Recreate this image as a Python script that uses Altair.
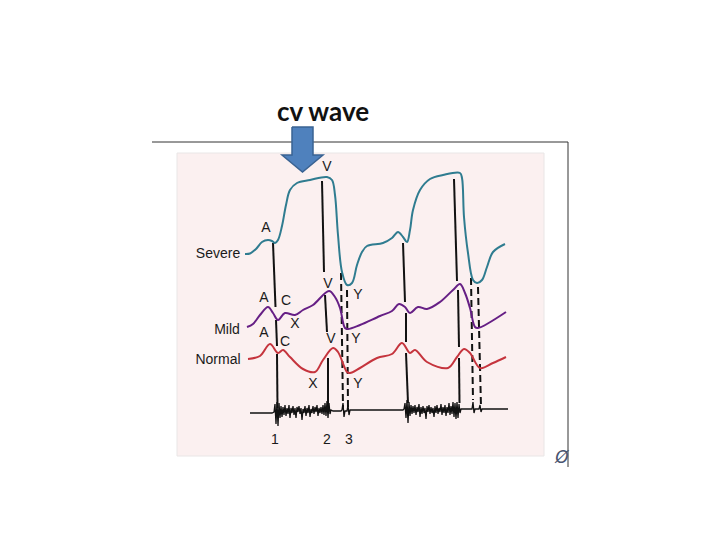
import altair as alt
import pandas as pd

severe_x = [245,250,256,262,268,272,275,278,282,286,290,297,310,327,332,335,338,342,347,352,357,362,367,383,392,398,403,407,410,413,420,430,443,460,462,464,468,473,477,482,487,493,505]
severe_y = [254,253.5,249,242,240,241,243,240,226,205,190,183,180,177,180,195,235,272,285,283,265,252,246,243,238,232,237,242,230,210,190,179,175,173,178,217,253,280,283,280,267,252,244]
mild_x = [247,253,260,268,273,278,285,295,303,313,329,335,340,345,348,360,380,392,399,405,410,418,427,440,453,460,465,470,475,478,506]
mild_y = [327,324,315,307,313,320,313,315,310,305,291,297,308,328,329,325,316,311,304,307,313,307,309,302,290,284,293,308,327,328,312]
normal_x = [248,260,270,278,283,290,303,315,323,333,338,347,350,360,377,392,402,410,415,427,448,457,464,470,480,493,506]
normal_y = [359,356,344,353,350,357,369,372,360,348,352,372,373,368,358,354,343,353,350,362,368,357,349,353,368,363,357]

ecg_points = [
    (250,413),(272,413),(274,412),(275,404),(276,424),(277,402),(278,426),(279,403),(280,418),(281,406),
    (282,417),(283,407),(284,415),(285,405),(286,416),(287,408),(288,414),(289,405),(290,418),(291,408),
    (292,413),(293,406),(294,415),(295,408),(296,418),(297,407),(298,412),(299,406),(300,414),(301,408),
    (302,420),(303,409),(304,413),(305,406),(306,416),(307,408),(308,413),(309,405),(310,417),(311,409),
    (312,413),(313,406),(314,414),(315,407),(316,412),(317,405),(318,416),(319,408),(320,413),(321,407),
    (322,414),(323,405),(324,415),(325,403),(326,416),(327,401),(328,418),(329,403),(330,414),(331,410),
    (333,411),(341,411),(342,410),(343,403),(344,417),(345,411),(347,411),(348,405),(349,415),(350,410),
    (403,410),(404,409),(405,403),(406,418),(407,400),(408,423),(409,402),(410,416),(411,405),(412,414),
    (413,406),(414,413),(415,405),(416,415),(417,407),(418,412),(419,404),(420,417),(421,407),(422,414),
    (423,406),(424,413),(425,408),(426,419),(427,406),(428,412),(429,405),(430,414),(431,407),(432,413),
    (433,408),(434,417),(435,406),(436,413),(437,405),(438,414),(439,408),(440,412),(441,404),(442,415),
    (443,407),(444,413),(445,405),(446,416),(447,407),(448,413),(449,403),(450,415),(451,406),(452,414),
    (453,402),(454,417),(455,403),(456,419),(457,402),(458,418),(459,404),(460,413),(461,409),
    (471,409),(472,409),(473,402),(474,413),(475,409),(479,409),(480,405),(481,412),(482,409),(508,409),
]
ecg_x = [p[0] for p in ecg_points]
ecg_y = [p[1] for p in ecg_points]

solid_segments = [
    [273,243,275.5,307],[276,320,277,346],[277,354,277.5,408],
    [322,181,324,272],[325,295,327,332],[328,358,328,410],
    [403,243,405,302],[406,313,406,342],[406,353,408,403],
    [454,179,457,281],[458,290,459,347],[459,358,459.5,403],
]
dashed_segments = [[341,273,343,407],[347,290,348,408],[471,278,473,400],[478,287,481,407]]

labels = ["V","A","Severe","V","A","C","Y","X","Mild","A","C","V","Y","Normal","X","Y","1","2","3"]
label_x = [327,266,218,328,264,286,358,295,227,264,285,331,356,218,313,358,275,327,349]
label_y = [167,228,254,284,298,301,295,324,330,333,342,339,339,360,384,384,440,440,440]

arrow_x = [292,313,313,323,302.5,282,292,292]
arrow_y = [127,127,155,155,172,155,155,127]

frame_x = [152,568,568]
frame_y = [142,142,467]
panel = pd.DataFrame({"x":[177],"x2":[544],"y":[153],"y2":[456]})

xs = alt.Scale(domain=[8,712], nice=False, zero=False)
ys = alt.Scale(domain=[528,8], nice=False, zero=False)
X = alt.X("x:Q", scale=xs, axis=None)
Y = alt.Y("y:Q", scale=ys, axis=None)

def curve(xv, yv, color, width=2.0, interp="catmull-rom"):
    df = pd.DataFrame({"x":xv,"y":yv})
    return alt.Chart(df).mark_line(color=color, strokeWidth=width, interpolate=interp).encode(X, Y)

def segs(rows, **kw):
    df = pd.DataFrame(rows, columns=["x","y","x2","y2"])
    return alt.Chart(df).mark_rule(color="#111111", **kw).encode(X, Y, x2="x2:Q", y2="y2:Q")

back = alt.Chart(panel).mark_rect(fill="#fbf0f0", stroke="#e9e6e6", strokeWidth=1).encode(X, Y, x2="x2:Q", y2="y2:Q")
frame = alt.Chart(pd.DataFrame({"x":frame_x,"y":frame_y,"o":[0,1,2]})).mark_line(color="#333333", strokeWidth=1).encode(X, Y, order="o:Q")

arrow_df = pd.DataFrame({"x":arrow_x,"y":arrow_y,"o":range(len(arrow_x))})
head_area = alt.Chart(pd.DataFrame({"x":[282,302.5,323],"y":[155,172,155],"y2":[155,155,155]})).mark_area(color="#4f81bd").encode(X, Y, y2="y2:Q")
shaft = alt.Chart(pd.DataFrame({"x":[292],"x2":[313],"y":[127],"y2":[156]})).mark_rect(color="#4f81bd").encode(X, Y, x2="x2:Q", y2="y2:Q")
arrow_line = alt.Chart(arrow_df).mark_line(color="#3a6393", strokeWidth=1.5).encode(X, Y, order="o:Q")

texts = alt.Chart(pd.DataFrame({"x":label_x,"y":label_y,"t":labels})).mark_text(
    font="Liberation Sans", fontSize=14, color="#1a1a1a", align="center", baseline="middle"
).encode(X, Y, text="t:N")
title = alt.Chart(pd.DataFrame({"x":[323],"y":[113],"t":["cv wave"]})).mark_text(
    font="Lato", fontSize=26, fontWeight="bold", color="#111111", align="center", baseline="middle"
).encode(X, Y, text="t:N")
glyph = alt.Chart(pd.DataFrame({"x":[562],"y":[458],"t":["Ø"]})).mark_text(
    font="DejaVu Sans", fontSize=17, fontStyle="italic", color="#4a5570", align="center", baseline="middle"
).encode(X, Y, text="t:N")

chart = alt.layer(
    back, frame,
    segs(solid_segments, strokeWidth=2),
    segs(dashed_segments, strokeWidth=2, strokeDash=[7,4]),
    curve(severe_x, severe_y, "#2f7c90"),
    curve(mild_x, mild_y, "#661f85"),
    curve(normal_x, normal_y, "#c5343d"),
    curve(ecg_x, ecg_y, "#111111", 1.3, "linear"),
    texts, title, glyph, head_area, shaft, arrow_line,
).properties(width=704, height=520, padding=0, background="#ffffff").configure_view(stroke=None)

chart.save("out.html", embed_options={"renderer": "svg", "actions": False})
